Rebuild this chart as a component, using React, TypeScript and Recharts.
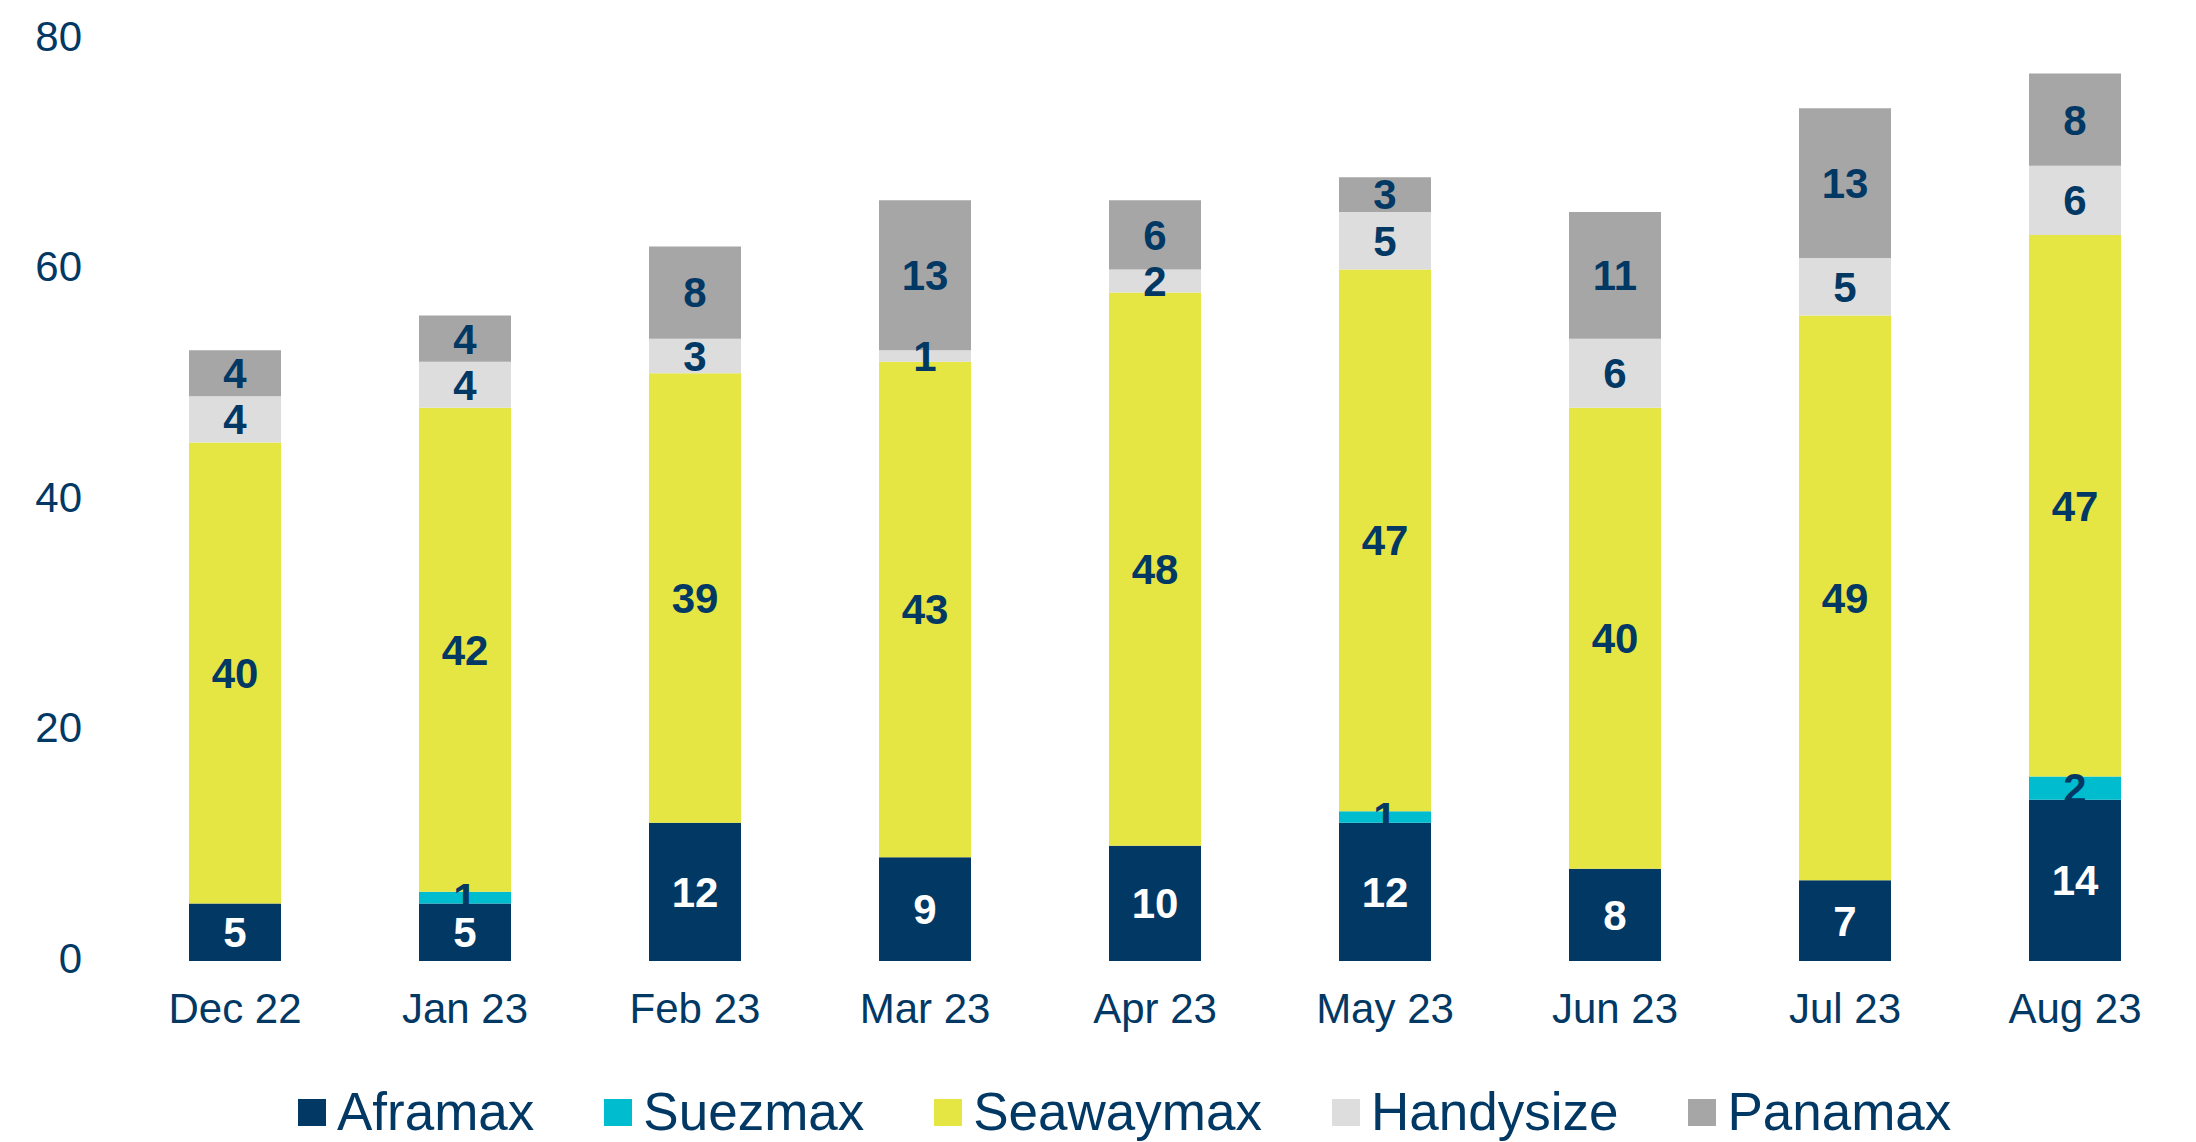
import React from 'react';
import { BarChart, Bar, XAxis, YAxis, Legend, LabelList } from 'recharts';

const months = ['Dec 22', 'Jan 23', 'Feb 23', 'Mar 23', 'Apr 23', 'May 23', 'Jun 23', 'Jul 23', 'Aug 23'];
const aframax = [5, 5, 12, 9, 10, 12, 8, 7, 14];
const suezmax = [0, 1, 0, 0, 0, 1, 0, 0, 2];
const seawaymax = [40, 42, 39, 43, 48, 47, 40, 49, 47];
const handysize = [4, 4, 3, 1, 2, 5, 6, 5, 6];
const panamax = [4, 4, 8, 13, 6, 3, 11, 13, 8];
const yTicks = [0, 20, 40, 60, 80];

const seriesNames = ['Aframax', 'Suezmax', 'Seawaymax', 'Handysize', 'Panamax'];
const seriesColors = ['#023864', '#00BCCF', '#E5E543', '#DDDDDD', '#A6A6A6'];
const labelColors = ['#FFFFFF', '#023864', '#023864', '#023864', '#023864'];
const seriesValues = [aframax, suezmax, seawaymax, handysize, panamax];

const data = months.map((m, i) => {
  const row: any = { month: m };
  seriesNames.forEach((s, k) => {
    const v = seriesValues[k][i];
    row[s] = v === 0 ? null : v;
  });
  return row;
});

const FONT = '"Liberation Sans", Arial, sans-serif';
const NAVY = '#023864';

const LegendContent = () => (
  <div style={{ display: 'flex', alignItems: 'center', height: 60, paddingLeft: 298, fontFamily: FONT, fontSize: 53, lineHeight: '60px', color: NAVY }}>
    {seriesNames.map((s, k) => (
      <div key={s} style={{ display: 'flex', alignItems: 'center', marginRight: 70 }}>
        <div style={{ width: 28, height: 27, background: seriesColors[k], marginRight: 11 }} />
        <span>{s}</span>
      </div>
    ))}
  </div>
);

export default function App() {
  return (
    <div style={{ position: 'absolute', left: 0, top: 0, width: 2196, height: 1142, background: '#fff' }}>
      <BarChart
        width={2196}
        height={1142}
        data={data}
        margin={{ top: 39, right: 6, bottom: 0, left: 0 }}
        barCategoryGap="30%"
      >
        <XAxis
          dataKey="month"
          axisLine={false}
          tickLine={false}
          tickSize={6}
          tickMargin={26}
          height={121}
          interval={0}
          tick={{ fill: NAVY, fontSize: 42, fontFamily: FONT }}
        />
        <YAxis
          domain={[0, 80]}
          ticks={yTicks}
          axisLine={false}
          tickLine={false}
          tickSize={6}
          tickMargin={32}
          width={120}
          tick={{ fill: NAVY, fontSize: 42, fontFamily: FONT, dy: -3 }}
        />
        <Legend verticalAlign="bottom" height={60} wrapperStyle={{ left: 0, width: 2196 }} content={<LegendContent />} />
        {seriesNames.map((s, k) => (
          <Bar key={s} dataKey={s} stackId="a" fill={seriesColors[k]} isAnimationActive={false}>
            <LabelList
              dataKey={s}
              position="center"
              fill={labelColors[k]}
              style={{ fontSize: 42, fontWeight: 700, fontFamily: FONT }}
            />
          </Bar>
        ))}
      </BarChart>
    </div>
  );
}
